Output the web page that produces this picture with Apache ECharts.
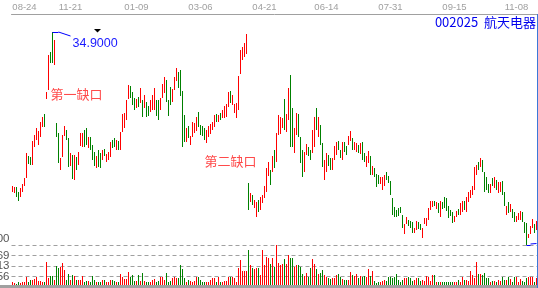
<!DOCTYPE html>
<html><head><meta charset="utf-8">
<script src="https://cdn.jsdelivr.net/npm/echarts@6/dist/echarts.min.js"></script>
<style>html,body{margin:0;padding:0;background:#fff;overflow:hidden}#c{width:538px;height:288px}</style>
</head><body><div id="c"></div>
<script>
const opens = [18.9,18.8,19.4,18.9,18.4,18.9,19.5,20.3,22.5,22.4,
21.6,23.4,24.1,23.6,24.4,25.4,26.7,28.2,29.1,32.9,
34.9,31.6,25.8,24.8,21.1,22.4,24.5,25.1,24.3,21.5,
22.6,20.1,22.4,21.6,23.5,23.4,25.1,25.3,23.3,24.4,
23.6,22.9,21.3,23.1,22.8,22.1,23.2,21.9,22.1,22.4,
24.1,24.3,23.1,24.0,23.1,24.9,25.3,26.1,28.2,29.5,
28.9,28.3,27.3,28.4,27.8,28.1,27.3,27.9,27.5,26.9,
27.1,27.1,28.1,28.1,27.1,28.3,28.8,30.1,28.1,29.4,
27.9,29.1,30.0,30.9,31.1,29.0,26.6,23.9,25.5,23.6,
24.4,24.8,25.0,26.9,25.6,25.5,25.3,23.8,24.4,24.7,
25.1,25.4,26.7,25.9,26.8,26.3,26.3,26.4,27.4,29.0,
27.6,26.8,26.3,27.1,30.7,32.1,32.4,32.7,19.8,17.9,
18.6,17.3,16.4,18.1,17.1,17.8,18.3,18.9,20.5,21.1,
20.9,23.1,21.9,24.6,24.7,25.3,28.2,24.9,26.1,30.6,
27.3,22.8,24.6,26.7,24.4,23.1,20.9,22.6,23.4,23.1,
22.8,23.4,27.3,24.4,25.6,23.8,20.1,20.9,22.6,22.3,
21.1,22.1,22.6,24.0,23.1,22.1,23.9,23.5,23.6,24.0,
24.3,23.1,22.9,23.6,22.7,23.9,22.8,21.4,21.8,22.5,
20.6,21.3,20.7,20.6,19.7,19.1,19.5,20.9,20.5,20.0,
18.3,17.4,17.1,17.3,17.4,16.6,14.7,15.7,16.1,16.0,
15.9,14.8,15.1,15.9,15.7,14.3,15.7,15.5,16.1,17.1,
17.4,18.0,17.2,17.8,16.4,17.9,18.4,18.3,17.5,17.1,
16.9,15.9,16.4,17.2,16.6,16.9,18.0,16.9,17.9,18.3,
18.6,19.1,20.6,21.9,21.4,22.1,20.9,20.4,19.7,18.8,
20.3,19.3,20.1,18.8,18.9,20.0,18.9,16.6,17.9,16.9,
17.2,16.9,15.9,16.1,16.1,16.9,15.9,15.8,14.3,14.7,
15.3,15.7,15.1];
const closes = [19.5,19.4,18.4,18.0,19.3,19.7,20.3,22.8,21.7,21.6,
24.0,24.6,25.3,25.0,25.9,26.4,25.4,28.9,32.6,31.8,
31.8,34.1,24.4,21.8,22.3,24.6,25.5,24.1,21.4,22.8,
20.2,22.6,21.1,22.9,24.8,24.8,23.4,23.6,24.4,23.1,
22.1,21.5,22.5,21.4,21.3,23.1,22.5,22.7,22.9,23.9,
23.3,23.4,24.1,23.1,24.9,26.7,26.8,28.1,29.6,28.3,
27.6,27.1,28.2,27.4,29.3,26.4,28.6,26.4,26.5,28.1,
28.6,29.3,26.5,26.1,28.3,29.7,30.4,27.9,26.5,27.6,
29.2,30.4,31.3,29.3,28.5,23.4,23.9,25.3,24.3,24.5,
25.9,25.8,26.4,25.4,24.6,24.5,24.1,25.1,25.5,25.7,
25.9,26.6,25.9,26.6,26.1,27.1,27.5,27.7,28.9,27.8,
28.6,27.7,27.8,30.5,33.1,33.4,33.8,34.7,17.1,18.8,
17.6,18.1,17.9,16.9,18.4,18.6,19.5,21.3,21.9,19.6,
22.5,21.3,24.8,26.6,26.4,26.3,25.1,26.7,29.3,23.4,
23.4,25.3,26.8,24.4,21.8,20.4,22.9,23.7,22.5,22.1,
25.1,26.4,25.1,26.4,23.6,21.4,22.1,22.8,21.5,21.1,
22.3,23.5,23.9,23.1,22.3,23.9,22.9,22.6,24.5,25.0,
23.1,23.9,23.8,22.8,23.8,22.1,21.9,22.5,23.0,20.6,
21.5,20.4,19.4,19.7,20.4,20.4,20.6,20.1,19.8,18.6,
16.6,16.4,16.4,16.5,16.8,15.3,15.7,16.4,15.5,15.3,
14.8,15.3,16.0,15.2,15.1,15.3,16.3,16.3,17.3,18.0,
18.0,17.5,17.9,16.8,18.0,17.2,17.3,17.0,16.3,16.5,
15.8,16.5,17.0,16.6,17.8,18.0,17.1,18.4,18.9,19.1,
19.5,21.4,21.6,21.1,22.3,20.9,18.9,19.1,18.8,19.7,
19.5,20.4,19.1,19.9,19.9,18.6,17.5,17.5,16.8,17.7,
16.3,15.9,16.5,16.8,17.0,15.9,14.8,13.6,14.7,15.5,
16.2,14.8,16.0];
const lows = [18.9,18.8,18.4,18.0,18.4,18.9,19.5,20.3,21.7,21.6,
21.6,23.4,24.1,23.6,24.4,25.4,25.4,28.2,29.1,31.8,
31.8,31.6,24.4,21.8,21.1,22.4,24.5,24.1,21.4,21.5,
20.2,20.1,21.1,21.6,23.5,23.4,23.4,23.6,23.3,23.1,
22.1,21.5,21.3,21.4,21.3,22.1,22.5,21.9,22.1,22.4,
23.3,23.4,23.1,23.1,23.1,24.9,25.3,26.1,28.2,28.3,
27.6,27.1,27.3,27.4,27.8,26.4,27.3,26.4,26.5,26.9,
27.1,27.1,26.5,26.1,27.1,28.3,28.8,27.9,26.5,27.6,
27.9,29.1,30.0,29.3,28.5,23.4,23.9,23.9,24.3,23.6,
24.4,24.8,25.0,25.4,24.6,24.5,24.1,23.8,24.4,24.7,
25.1,25.4,25.9,25.9,26.1,26.3,26.3,26.4,27.4,27.8,
27.6,26.8,26.3,27.1,30.7,32.1,32.4,32.7,17.1,17.9,
17.6,17.3,16.4,16.9,17.1,17.8,18.3,18.9,20.5,19.6,
20.9,21.3,21.9,24.6,24.7,25.3,25.1,24.9,26.1,23.4,
23.4,22.8,24.6,24.4,21.8,20.4,20.9,22.6,22.5,22.1,
22.8,23.4,25.1,24.4,23.6,21.4,20.1,20.9,21.5,21.1,
21.1,22.1,22.6,23.1,22.3,22.1,22.9,22.6,23.6,24.0,
23.1,23.1,22.9,22.8,22.7,22.1,21.9,21.4,21.8,20.6,
20.6,20.4,19.4,19.7,19.7,19.1,19.5,20.1,19.8,18.6,
16.6,16.4,16.4,16.5,16.8,15.3,14.7,15.7,15.5,15.3,
14.8,14.8,15.1,15.2,15.1,14.3,15.7,15.5,16.1,17.1,
17.4,17.5,17.2,16.8,16.4,17.2,17.3,17.0,16.3,16.5,
15.8,15.9,16.4,16.6,16.6,16.9,17.1,16.9,17.9,18.3,
18.6,19.1,20.6,21.1,21.4,20.9,18.9,19.1,18.8,18.8,
19.5,19.3,19.1,18.8,18.9,18.6,17.5,16.6,16.8,16.9,
16.3,15.9,15.9,16.1,16.1,15.9,14.8,13.6,14.3,14.7,
15.3,14.8,15.1];
const highs = [19.5,19.4,19.4,18.9,19.3,19.7,20.3,22.8,22.5,22.4,
24.0,24.6,25.3,25.0,25.9,26.4,26.7,28.9,32.6,32.9,
34.9,34.1,25.8,24.8,22.3,24.6,25.5,25.1,24.3,22.8,
22.6,22.6,22.4,22.9,24.8,24.8,25.1,25.3,24.4,24.4,
23.6,22.9,22.5,23.1,22.8,23.1,23.2,22.7,22.9,23.9,
24.1,24.3,24.1,24.0,24.9,26.7,26.8,28.1,29.6,29.5,
28.9,28.3,28.2,28.4,29.3,28.1,28.6,27.9,27.5,28.1,
28.6,29.3,28.1,28.1,28.3,29.7,30.4,30.1,28.1,29.4,
29.2,30.4,31.3,30.9,31.1,29.0,26.6,25.3,25.5,24.5,
25.9,25.8,26.4,26.9,25.6,25.5,25.3,25.1,25.5,25.7,
25.9,26.6,26.7,26.6,26.8,27.1,27.5,27.7,28.9,29.0,
28.6,27.7,27.8,30.5,33.1,33.4,33.8,34.7,19.8,18.8,
18.6,18.1,17.9,18.1,18.4,18.6,19.5,21.3,21.9,21.1,
22.5,23.1,24.8,26.6,26.4,26.3,28.2,26.7,29.3,30.6,
27.3,25.3,26.8,26.7,24.4,23.1,22.9,23.7,23.4,23.1,
25.1,26.4,27.3,26.4,25.6,23.8,22.1,22.8,22.6,22.3,
22.3,23.5,23.9,24.0,23.1,23.9,23.9,23.5,24.5,25.0,
24.3,23.9,23.8,23.6,23.8,23.9,22.8,22.5,23.0,22.5,
21.5,21.3,20.7,20.6,20.4,20.4,20.6,20.9,20.5,20.0,
18.3,17.4,17.1,17.3,17.4,16.6,15.7,16.4,16.1,16.0,
15.9,15.3,16.0,15.9,15.7,15.3,16.3,16.3,17.3,18.0,
18.0,18.0,17.9,17.8,18.0,17.9,18.4,18.3,17.5,17.1,
16.9,16.5,17.0,17.2,17.8,18.0,18.0,18.4,18.9,19.1,
19.5,21.4,21.6,21.9,22.3,22.1,20.9,20.4,19.7,19.7,
20.3,20.4,20.1,19.9,19.9,20.0,18.9,17.5,17.9,17.7,
17.2,16.9,16.5,16.8,17.0,16.9,15.9,15.8,14.7,15.5,
16.2,15.7,16.0];
const volumes = [2500,2000,1500,2500,2000,2500,2500,5000,2500,3500,
3500,4000,5000,3000,3000,2500,2500,12500,4500,5500,
5500,3500,10500,9500,10000,12000,8500,3500,6500,3500,
6000,5500,3500,3500,3500,5500,2500,3000,3000,2500,
5500,3500,2500,2500,2500,3500,3500,2500,2500,3500,
3500,3000,2500,2500,6500,5000,4000,4000,7500,5000,
6000,3000,3000,6000,3000,7000,3000,2500,2500,2500,
3500,4000,2500,3000,5000,5000,3500,7000,2500,3000,
4500,5000,4500,4500,11000,9000,4500,2500,3500,3000,
2500,3000,5000,5000,3500,2500,2500,2500,2500,3500,
4500,4500,2500,5000,2500,2500,3000,3000,5000,5000,
5000,4500,2500,9500,13500,8000,8000,8000,18500,11000,
9500,9000,9500,9500,6000,18500,11000,15000,14500,11500,
14500,10000,21000,12000,11000,11500,14000,11500,16000,14500,
14500,10000,11000,11000,10000,6500,5500,7000,5000,9500,
14000,11500,9000,6500,7000,8500,6000,5000,4500,4000,
4500,4500,6000,6500,5000,4000,3500,3500,3500,7500,
6000,5500,6500,4500,5500,5000,5500,5000,9000,5500,
8000,3000,2000,2500,2500,3000,3500,3000,5000,5000,
4500,5000,6500,3500,2500,3500,4500,4500,5000,4500,
3000,3500,4500,4500,3000,3500,3000,5500,5000,3000,
6000,6000,2500,2500,2500,2500,2500,2500,2500,2500,
2500,2500,2500,3500,2500,5000,3500,3500,3000,8000,
6000,4500,12500,6500,6500,6000,7000,4500,4500,2500,
3000,3000,2500,3500,3000,5000,3500,3500,5000,4000,
2500,5000,5000,2500,4000,3000,2500,4500,5000,5000,
5000,2500,4500];
const tickIndex = [6, 29, 62, 94, 126, 157, 189, 221, 252];
const tickText = ['08-24', '11-21', '01-09', '03-06', '04-21', '06-14', '07-31', '09-15', '11-08'];
const volStep = 5256.25;
const maxIndex = 20, maxPrice = 34.9, maxLabel = '34.9000';
const minIndex = 257, minPrice = 13.6;
const stockTitle = '002025  航天电器';
const gapNotes = [{ index: 19, price: 28.7, text: '第一缺口' }, { index: 96, price: 22.0, text: '第二缺口' }];
const priceFloorLabel = '14.00';

const UP = '#ff0000', DOWN = '#008000';
const N = opens.length;
const cats = opens.map((_, i) => String(i));
const labelMap = {};
tickIndex.forEach((k, j) => { labelMap[k] = tickText[j]; });
const kData = opens.map((o, i) => [i, o, closes[i], lows[i], highs[i]]);
const vData = volumes.map((v, i) => ({ value: v, itemStyle: { color: closes[i] >= opens[i] ? UP : DOWN } }));

function renderCandle(params, api) {
  const i = api.value(0), o = api.value(1), c = api.value(2), l = api.value(3), h = api.value(4);
  const pH = api.coord([i, h]);
  const pL = api.coord([i, l]);
  const x = Math.floor(pH[0]);
  const y1 = Math.round(pH[1]);
  const y2 = Math.round(pL[1]);
  return { type: 'rect', shape: { x: x, y: y1, width: 1, height: Math.max(1, y2 - y1) },
    style: { fill: c >= o ? UP : DOWN } };
}

const chart = echarts.init(document.getElementById('c'), null, { renderer: 'canvas' });
const font = 'Liberation Sans, Arial, sans-serif';
chart.setOption({
  animation: false,
  backgroundColor: '#fff',
  grid: [
    { left: 11.5, right: 0.5, top: 14, height: 231, containLabel: false, outerBoundsMode: 'none' },
    { left: 11.5, right: 0.5, top: 245, height: 42, containLabel: false, outerBoundsMode: 'none' }
  ],
  xAxis: [
    { type: 'category', gridIndex: 0, data: cats, position: 'top', boundaryGap: true,
      axisLine: { show: true, lineStyle: { color: '#a0a0a0', width: 1 } },
      axisTick: { show: false }, splitLine: { show: false },
      axisLabel: { interval: 0, margin: 2, color: '#a0a0a0', fontSize: 9.5, fontFamily: font,
        formatter: (v, idx) => labelMap[idx] || '' } },
    { type: 'category', gridIndex: 1, data: cats, boundaryGap: true, show: false }
  ],
  yAxis: [
    { type: 'value', gridIndex: 0, min: 13.6, max: 36.7, show: false, splitLine: { show: false } },
    { type: 'value', gridIndex: 1, min: 0, max: volStep * 4, interval: volStep,
      axisLine: { show: false }, axisTick: { show: false },
      splitLine: { show: true, lineStyle: { color: '#a0a0a0', type: [4, 3], width: 1 } },
      axisLabel: { margin: 2, color: '#555', fontSize: 11.5, fontFamily: font,
        formatter: v => (v > 1 && v < volStep * 3.5) ? String(Math.round(v)) : '' } }
  ],
  series: [
    { type: 'custom', xAxisIndex: 0, yAxisIndex: 0, data: kData, renderItem: renderCandle,
      encode: { x: 0, y: [1, 2, 3, 4] }, clip: true,
      markLine: { silent: true, symbol: ['none', 'none'], animation: false,
        lineStyle: { color: '#0000ff', width: 1, type: 'solid' }, label: { show: false },
        data: [
          [{ coord: [maxIndex, maxPrice] }, { coord: [maxIndex + 3, maxPrice] }],
          [{ coord: [maxIndex + 3, maxPrice] }, { coord: [maxIndex + 9, maxPrice - 0.4] }],
          [{ coord: [minIndex, minPrice] }, { coord: [minIndex + 2, minPrice] }],
          [{ coord: [minIndex + 2, minPrice + 0.1] }, { coord: [N - 1, minPrice + 0.15] }]
        ] },
      markPoint: { silent: true, animation: false, symbol: 'circle', symbolSize: 0,
        data: [
          { coord: [maxIndex + 10, maxPrice - 1.18],
            label: { show: true, position: 'right', distance: 0, formatter: maxLabel,
              color: '#1a1aff', fontSize: 12.5, fontFamily: font } }
        ].concat(gapNotes.map(g => ({ coord: [g.index, g.price],
            label: { show: true, position: 'right', distance: 0, formatter: g.text,
              color: '#ff4a4a', fontSize: 13, fontFamily: 'Noto Sans CJK SC' } }))) }
    },
    { type: 'bar', xAxisIndex: 1, yAxisIndex: 1, data: vData, barWidth: 1 }
  ],
  graphic: [
    { type: 'rect', z: 100, shape: { x: 0, y: 285, width: 537, height: 3 }, style: { fill: '#a0a0a0' } },
    { type: 'line', z: 100, shape: { x1: 537.5, y1: 14, x2: 537.5, y2: 288 }, style: { stroke: '#3b78d8', lineWidth: 1 } },
    { type: 'polygon', z: 100, shape: { points: [[94, 29], [101, 29], [97.5, 32.5]] }, style: { fill: '#000' } },
    { type: 'text', z: 100, style: { text: stockTitle, x: 536, y: 22.5, align: 'right', verticalAlign: 'middle',
        fill: '#0000ee', font: '13px "Noto Sans CJK SC", sans-serif' } },
    { type: 'text', z: 100, style: { text: priceFloorLabel, x: 9.5, y: 239, align: 'right', verticalAlign: 'middle',
        fill: '#555', font: '11.5px "Liberation Sans", Arial, sans-serif' } }
  ]
});
</script></body></html>
